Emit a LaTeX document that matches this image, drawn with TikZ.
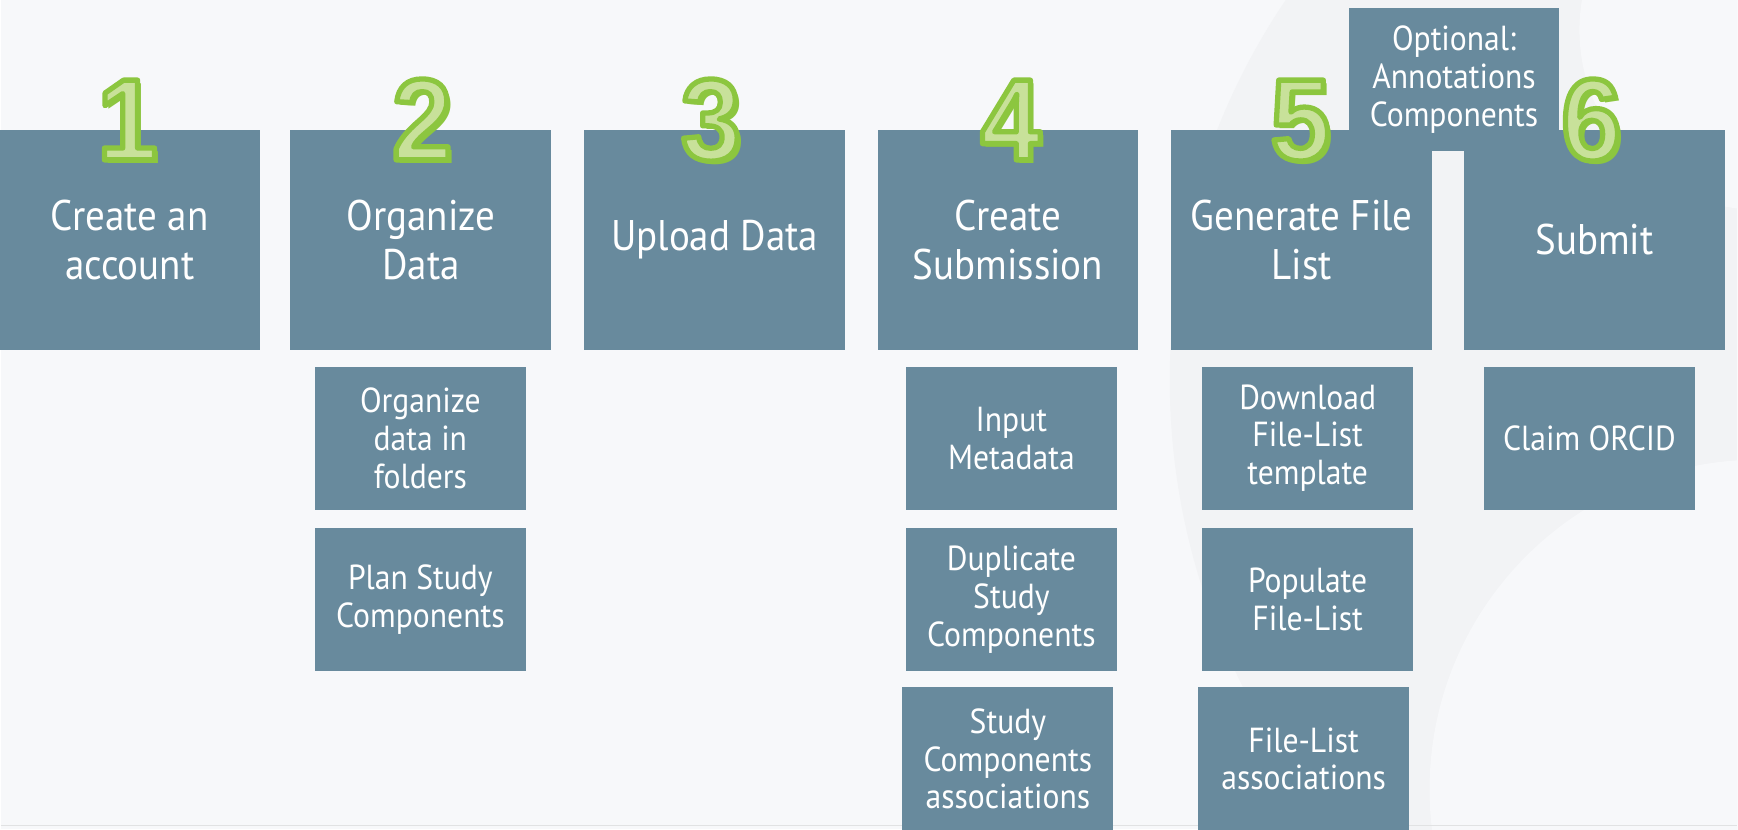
\documentclass[tikz,border=0pt]{standalone}
\usepackage{fontspec}
\setmainfont{PT Sans}[FakeStretch=0.91]
\newfontfamily\numfont{Liberation Sans}[FakeStretch=0.93]

\definecolor{boxblue}{HTML}{688A9D}
\definecolor{pagebg}{HTML}{F7F8FA}
\definecolor{swirl}{HTML}{F2F3F5}
\definecolor{numdark}{HTML}{8CC63F}
\definecolor{numlight}{HTML}{C8E19A}

% light face with a green stroke round the glyph
\newcommand{\outlinenum}[1]{%
  \special{pdf:literal direct 0.549 0.776 0.247 RG 1.5 w 1 j 2 Tr}#1%
  \special{pdf:literal direct 0 Tr}}

\begin{document}
\begin{tikzpicture}[
    stepbox/.style={rectangle, fill=boxblue, text=white, align=center, inner sep=0pt,
        minimum width=2.61cm, minimum height=2.2cm, font=\fontsize{12.2}{14}\selectfont},
    taskbox/.style={rectangle, fill=boxblue, text=white, align=center, inner sep=0pt,
        minimum width=2.11cm, minimum height=1.43cm, font=\fontsize{9.9}{10.8}\selectfont},
    stepnumber/.style={anchor=base, inner sep=0pt, text=numlight,
        font=\fontsize{33}{33}\numfont\bfseries},
    numshadow/.style={stepnumber, text=numdark}
]
    \fill[pagebg] (0, 0) rectangle (17.38, 8.30);
    \begin{scope}
        \clip (0, 0) rectangle (17.38, 8.30);
        \fill[swirl] (18.5, 4.5) circle (6.8);
        \fill[pagebg] (17.6, 0.4) circle (3.3);
        \fill[pagebg] (17.6, 8.0) circle (1.8);
    \end{scope}
    \draw[swirl!85!gray, line width=0.4pt] (0, 0.04) -- (17.38, 0.04);
    \useasboundingbox (0, 0) rectangle (17.38, 8.30);

    \node[stepbox] (s1) at (1.29, 5.90) {Create an\\account};
    \node[stepbox] (s2) at (4.205, 5.90) {Organize\\Data};
    \node[stepbox] (s3) at (7.145, 5.90) {Upload Data};
    \node[stepbox] (s4) at (10.08, 5.90) {Create\\Submission};
    \node[stepbox] (s5) at (13.02, 5.90) {Generate File\\List};
    \node[stepbox] (s6) at (15.95, 5.90) {Submit};

    \node[taskbox] (opt) at (14.545, 7.505) {Optional:\\Annotations\\Components};

    % step numbers, shadow first
    \node[numshadow] (n1s) at (1.31, 6.665) {1};
    \node[stepnumber] (n1) at (1.27, 6.70) {\outlinenum{1}};
    \node[numshadow] (n2s) at (4.26, 6.665) {2};
    \node[stepnumber] (n2) at (4.22, 6.70) {\outlinenum{2}};
    \node[numshadow] (n3s) at (7.15, 6.665) {3};
    \node[stepnumber] (n3) at (7.11, 6.70) {\outlinenum{3}};
    \node[numshadow] (n4s) at (10.15, 6.665) {4};
    \node[stepnumber] (n4) at (10.11, 6.70) {\outlinenum{4}};
    \node[numshadow] (n5s) at (13.05, 6.665) {5};
    \node[stepnumber] (n5) at (13.01, 6.70) {\outlinenum{5}};
    \node[numshadow] (n6s) at (15.96, 6.665) {6};
    \node[stepnumber] (n6) at (15.92, 6.70) {\outlinenum{6}};

    \node[taskbox] (s2a) at (4.20, 3.915) {Organize\\data in\\folders};
    \node[taskbox] (s2b) at (4.20, 2.30) {Plan Study\\Components};

    \node[taskbox] (s4a) at (10.115, 3.915) {Input\\Metadata};
    \node[taskbox] (s4b) at (10.115, 2.30) {Duplicate\\Study\\Components};
    \node[taskbox] (s4c) at (10.08, 0.705) {Study\\Components\\associations};

    \node[taskbox] (s5a) at (13.08, 3.915) {Download\\File-List\\template};
    \node[taskbox] (s5b) at (13.08, 2.30) {Populate\\File-List};
    \node[taskbox] (s5c) at (13.04, 0.705) {File-List\\associations};

    \node[taskbox] (s6a) at (15.90, 3.915) {Claim ORCID};
\end{tikzpicture}
\end{document}
